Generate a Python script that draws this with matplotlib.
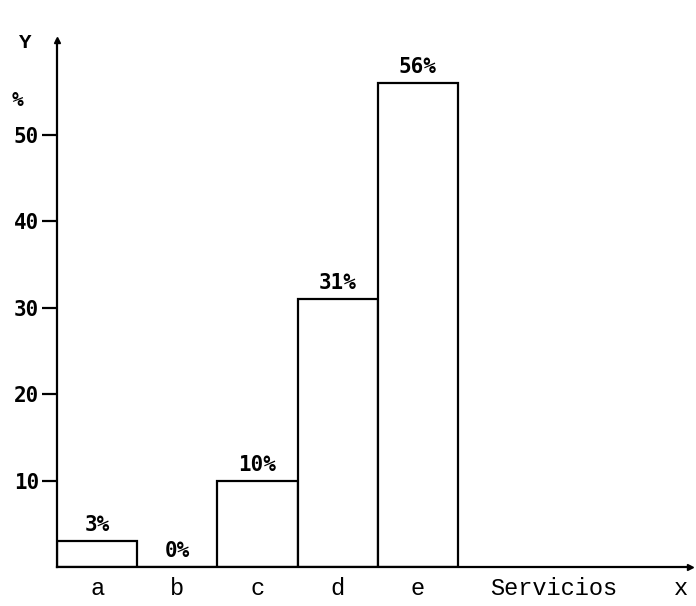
import matplotlib
matplotlib.use('Agg')
import matplotlib.pyplot as plt

categories = ['a', 'b', 'c', 'd', 'e']
values = [3, 0, 10, 31, 56]
bar_labels = ['3%', '0%', '10%', '31%', '56%']
y_ticks = [10, 20, 30, 40, 50]

mono = 'Liberation Mono'
mono_b = 'DejaVu Sans Mono'

fig = plt.figure(figsize=(6.96, 6.06), dpi=100)
ax = fig.add_axes([0.082, 0.064, 0.91, 0.87])

pos = list(range(len(categories)))
ax.bar(pos, values, width=1.0, color='white', edgecolor='black', linewidth=1.6)

for x, v, lab in zip(pos, values, bar_labels):
	ax.text(x, v + 0.7, lab, ha='center', va='bottom', fontsize=15,
		family=mono_b, fontweight='bold')

ax.set_xlim(-0.5, 7.4)
ax.set_ylim(0, 61)

ax.spines['top'].set_visible(False)
ax.spines['right'].set_visible(False)
ax.spines['left'].set_linewidth(1.6)
ax.spines['bottom'].set_linewidth(1.6)

# arrow heads at axis ends
ax.plot(1, 0, '>', color='black', markersize=5, transform=ax.transAxes, clip_on=False)
ax.plot(0, 1, '^', color='black', markersize=5, transform=ax.transAxes, clip_on=False)

ax.set_yticks(y_ticks)
ax.set_yticklabels([str(t) for t in y_ticks], family=mono_b, fontsize=15, fontweight='bold')
ax.tick_params(axis='y', direction='out', length=11, width=1.6, pad=2)

# category letters plus the axis caption sit on the same row
xt_pos = pos + [5.69, 7.28]
xt_lab = categories + ['Servicios', 'x']
ax.set_xticks(xt_pos)
ax.set_xticklabels(xt_lab, family=mono, fontsize=17)
ax.tick_params(axis='x', length=0, pad=7)

ax.text(-0.05, 0.995, 'Y', ha='center', va='center', fontsize=15, family=mono,
	fontweight='bold', transform=ax.transAxes)
ax.text(-0.062, 0.885, '%', ha='center', va='center', fontsize=14, family=mono_b,
	fontweight='bold', transform=ax.transAxes)

fig.savefig('out.png', dpi=100)
